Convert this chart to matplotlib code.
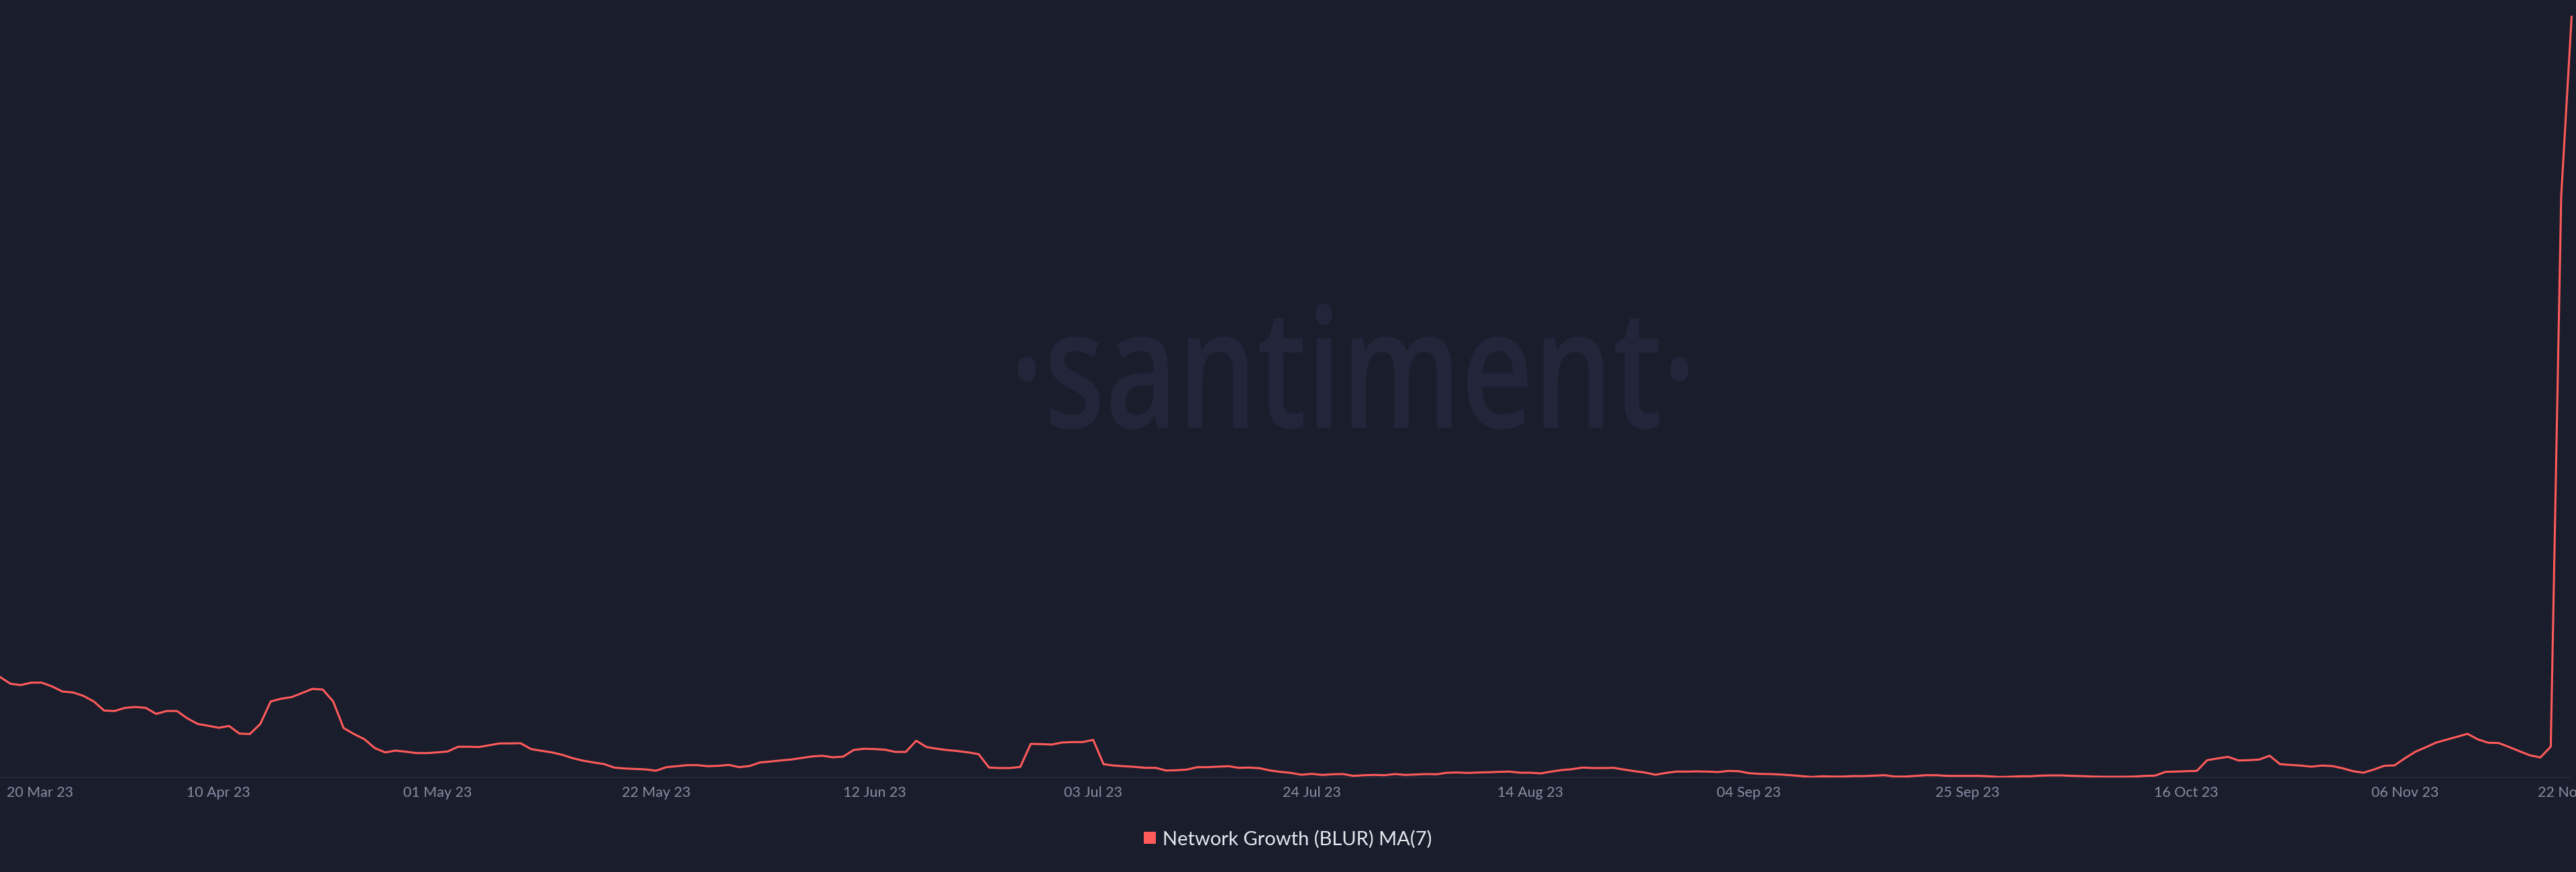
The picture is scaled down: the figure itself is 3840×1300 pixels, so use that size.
import numpy as np
import pandas as pd
import matplotlib
matplotlib.use("Agg")
import matplotlib.pyplot as plt
import matplotlib.dates as mdates
from matplotlib.textpath import TextPath
from matplotlib.patches import PathPatch, Patch
from matplotlib.font_manager import FontProperties
from matplotlib.transforms import Affine2D, ScaledTranslation

# ---------------- data ----------------
start_date = "2023-03-20"
end_date = "2023-11-22"

values = [
    149.7, 139.7, 137.7, 141.3, 141.3, 135.7, 128.0, 126.7, 121.7, 113.3,
    99.7, 99.0, 103.7, 105.0, 103.7, 94.7, 99.0, 99.0, 88.0, 79.7,
    77.0, 74.0, 76.7, 65.3, 64.7, 79.7, 113.3, 117.3, 119.7, 125.7,
    132.0, 131.0, 113.3, 73.7, 64.7, 57.0, 43.7, 37.3, 40.0, 38.3,
    36.3, 36.3, 37.3, 38.7, 45.7, 45.7, 45.3, 48.0, 50.7, 50.7,
    51.0, 42.3, 39.7, 37.3, 33.7, 28.7, 25.0, 22.3, 20.0, 14.7,
    13.3, 12.7, 12.0, 10.0, 15.3, 16.7, 18.3, 18.3, 16.7, 17.3,
    18.7, 15.3, 17.0, 22.3, 23.7, 25.3, 26.7, 29.0, 31.3, 32.3,
    30.0, 31.0, 41.0, 42.7, 42.3, 41.3, 38.0, 38.0, 54.7, 45.3,
    42.7, 40.7, 39.3, 37.3, 34.7, 14.7, 14.0, 14.0, 15.7, 50.0,
    49.7, 49.0, 52.0, 52.7, 52.7, 56.0, 19.7, 17.7, 16.7, 15.7,
    14.3, 14.3, 10.3, 10.7, 11.7, 15.3, 15.3, 16.0, 16.7, 14.3,
    14.7, 13.7, 10.3, 8.3, 6.7, 4.0, 5.3, 3.7, 4.7, 5.0,
    2.3, 3.3, 3.7, 3.3, 5.0, 3.7, 4.3, 5.0, 4.7, 7.0,
    7.3, 6.7, 7.3, 7.7, 8.3, 8.7, 7.0, 7.0, 6.0, 8.7,
    11.0, 12.3, 14.7, 14.0, 14.0, 14.3, 11.7, 9.3, 7.3, 4.0,
    6.7, 8.7, 8.7, 9.0, 8.7, 8.0, 9.7, 9.3, 6.3, 5.3,
    5.0, 4.3, 3.3, 2.0, 0.7, 1.7, 1.3, 1.3, 2.0, 2.0,
    2.7, 3.3, 1.3, 1.3, 2.3, 3.3, 3.3, 2.3, 2.3, 2.3,
    2.3, 1.7, 0.7, 1.0, 1.7, 1.7, 2.7, 3.0, 3.0, 2.3,
    2.0, 1.3, 1.0, 1.0, 1.0, 1.3, 2.3, 2.7, 8.3, 8.7,
    9.3, 9.7, 25.7, 28.3, 30.7, 25.3, 25.7, 26.7, 32.3, 19.7,
    18.7, 17.7, 16.0, 17.7, 17.0, 13.7, 9.3, 7.0, 11.7, 17.3,
    18.0, 28.7, 38.3, 45.0, 52.0, 56.3, 60.7, 65.0, 56.7, 51.7,
    51.3, 45.3, 39.0, 33.0, 29.7, 46.0, 866.0, 1134.0,
]

tick_dates = ["2023-03-20", "2023-04-10", "2023-05-01", "2023-05-22",
              "2023-06-12", "2023-07-03", "2023-07-24", "2023-08-14",
              "2023-09-04", "2023-09-25", "2023-10-16", "2023-11-06",
              "2023-11-22"]
tick_labels = ["20 Mar 23", "10 Apr 23", "01 May 23", "22 May 23",
               "12 Jun 23", "03 Jul 23", "24 Jul 23", "14 Aug 23",
               "04 Sep 23", "25 Sep 23", "16 Oct 23", "06 Nov 23",
               "22 Nov 23"]
series_label = "Network Growth (BLUR) MA(7)"
watermark = "·santiment·"

# ---------------- style ----------------
BG = "#1a1d2c"
RED = "#ff5b5b"
TICK_COLOR = "#868da3"
AXIS_COLOR = "#272b3c"
WM_COLOR = "#22263a"

W, H, DPI = 3840, 1300, 100
fig = plt.figure(figsize=(W / DPI, H / DPI), dpi=DPI, facecolor=BG)
ax = fig.add_axes([0, 141 / H, 1, 1159 / H])
ax.set_facecolor(BG)

dates = pd.date_range(start_date, end_date, freq="D")
ax.plot(dates, values, color=RED, lw=2.2, zorder=3, solid_joinstyle="round")

x0 = mdates.date2num(dates[0])
x1 = mdates.date2num(dates[-1])
ax.set_xlim(x0, x0 + W / 15.52)
ax.set_ylim(0, 1159)
ax.set_yticks([])
for s in ["top", "right", "left"]:
    ax.spines[s].set_visible(False)
ax.spines["bottom"].set_color(AXIS_COLOR)
ax.spines["bottom"].set_linewidth(1.3)
ax.spines["bottom"].set_bounds(x0, x1)

ax.set_xticks(pd.to_datetime(tick_dates))
ax.set_xticklabels(tick_labels)
ax.tick_params(axis="x", length=0, pad=9, labelsize=15.5, labelcolor=TICK_COLOR)
for lab in ax.get_xticklabels():
    lab.set_fontfamily("Lato")
first = ax.xaxis.get_major_ticks()[0].label1
first.set_horizontalalignment("left")
first.set_transform(first.get_transform() + ScaledTranslation(10 / DPI, 0, fig.dpi_scale_trans))

# watermark
fp = FontProperties(family="Open Sans", weight="semibold")
tp = TextPath((0, 0), watermark, size=100, prop=fp)
bb = tp.get_extents()
sx = 1000 / bb.width
sy = 187 / bb.height
tr = Affine2D().translate(-bb.x0, -bb.y0).scale(sx, sy).translate(1517, H - 640)
wm = PathPatch(tp, facecolor=WM_COLOR, edgecolor="none", zorder=1)
wm.set_transform(tr)
ax.add_artist(wm)

# legend
handle = Patch(facecolor=RED, edgecolor="none", label=series_label)
leg = fig.legend(handles=[handle], loc="center", bbox_to_anchor=(0.5, 49 / H),
                 frameon=False, handlelength=0.6, handleheight=0.6,
                 handletextpad=0.35, prop={"family": "Lato", "size": 21})
for t in leg.get_texts():
    t.set_color("#e6e8ef")

fig.savefig("out.png", dpi=DPI, facecolor=BG)
